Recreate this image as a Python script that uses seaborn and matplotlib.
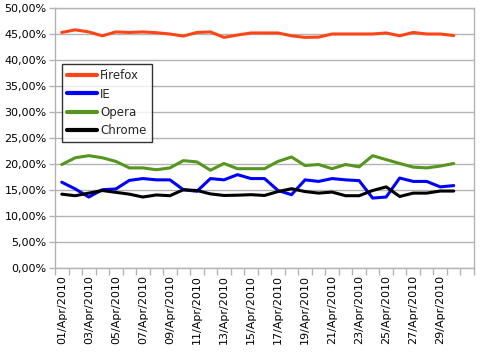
import matplotlib
matplotlib.use("Agg")
import matplotlib.pyplot as plt
import seaborn as sns
import pandas as pd
import numpy as np
from matplotlib.ticker import FuncFormatter, FixedLocator

days = [f"{d:02d}/Apr/2010" for d in range(1, 31)]

firefox = [45.3, 45.8, 45.4, 44.65, 45.4, 45.3, 45.4, 45.25, 45.0, 44.6,
           45.3, 45.4, 44.35, 44.8, 45.2, 45.2, 45.2, 44.65, 44.35, 44.4,
           45.0, 45.0, 45.0, 45.0, 45.2, 44.65, 45.3, 45.0, 45.0, 44.7]
ie = [16.5, 15.2, 13.65, 15.05, 15.2, 16.85, 17.2, 16.95, 16.95, 15.05,
      14.75, 17.2, 16.95, 17.95, 17.2, 17.2, 14.9, 14.1, 16.95, 16.65,
      17.2, 16.95, 16.8, 13.45, 13.65, 17.3, 16.65, 16.65, 15.6, 15.85]
opera = [19.9, 21.2, 21.6, 21.2, 20.5, 19.25, 19.25, 18.9, 19.25, 20.65,
         20.4, 18.8, 20.1, 19.1, 19.1, 19.1, 20.5, 21.35, 19.7, 19.9,
         19.1, 19.9, 19.45, 21.6, 20.85, 20.1, 19.4, 19.25, 19.6, 20.1]
chrome = [14.2, 13.9, 14.4, 14.9, 14.55, 14.2, 13.65, 14.05, 13.9, 15.05,
          14.9, 14.25, 13.95, 14.0, 14.1, 13.95, 14.7, 15.25, 14.7, 14.4,
          14.6, 13.9, 13.9, 14.9, 15.6, 13.75, 14.4, 14.4, 14.8, 14.8]

browsers = ["Firefox", "IE", "Opera", "Chrome"]
colors = ["#ff4515", "#0000ff", "#56951f", "#000000"]

rows = []
for name, vals in zip(browsers, [firefox, ie, opera, chrome]):
    for i, v in enumerate(vals):
        rows.append({"idx": i, "day": days[i], "share": v, "browser": name})
df = pd.DataFrame(rows)

sns.set_theme(style="white")
plt.rcParams['font.family'] = ['DejaVu Sans']

fig = plt.figure(figsize=(4.81, 3.57), dpi=100)
ax = fig.add_axes([55/481, 1-268/357, (474-55)/481, (268-8)/357])

sns.lineplot(data=df, x="idx", y="share", hue="browser", hue_order=browsers,
             palette=colors, linewidth=2.2, ax=ax, legend=True)

ax.set_xlim(-0.5, 30.5)
ax.set_ylim(0, 50)
ax.set_yticks(np.arange(0, 51, 5))
ax.yaxis.set_major_formatter(FuncFormatter(lambda v, p: f"{v:.2f}".replace(".", ",") + "%"))
ax.grid(axis="y", color="#b3b3b3", linewidth=1)
ax.set_axisbelow(True)

ax.xaxis.set_major_locator(FixedLocator(list(range(0, 30, 2))))
ax.set_xticklabels(days[0::2], rotation=90)
ax.xaxis.set_minor_locator(FixedLocator(list(np.arange(-0.5, 31, 1))))
ax.tick_params(axis="x", which="major", length=0, pad=5, labelsize=8, colors="black")
ax.tick_params(axis="x", which="minor", length=5, color="#b3b3b3", width=1, bottom=True)
ax.tick_params(axis="y", length=4, color="#b3b3b3", width=1, labelsize=8, left=True, pad=2)
for lbl in ax.get_xticklabels() + ax.get_yticklabels():
    lbl.set_color("black")

for s in ax.spines.values():
    s.set_color("#b3b3b3")
    s.set_linewidth(1)

ax.set_xlabel("")
ax.set_ylabel("")

handles, labels = ax.get_legend_handles_labels()
leg = ax.legend(handles, labels, loc="upper left", bbox_to_anchor=(0.017, 0.785),
                frameon=True, fancybox=False, fontsize=8.5, handlelength=2.5,
                handletextpad=0.25, borderpad=0.45, labelspacing=0.45, borderaxespad=0)
leg.get_frame().set_edgecolor("black")
leg.get_frame().set_linewidth(1)
for line in leg.get_lines():
    line.set_linewidth(3)

fig.savefig("out.png", dpi=100)
